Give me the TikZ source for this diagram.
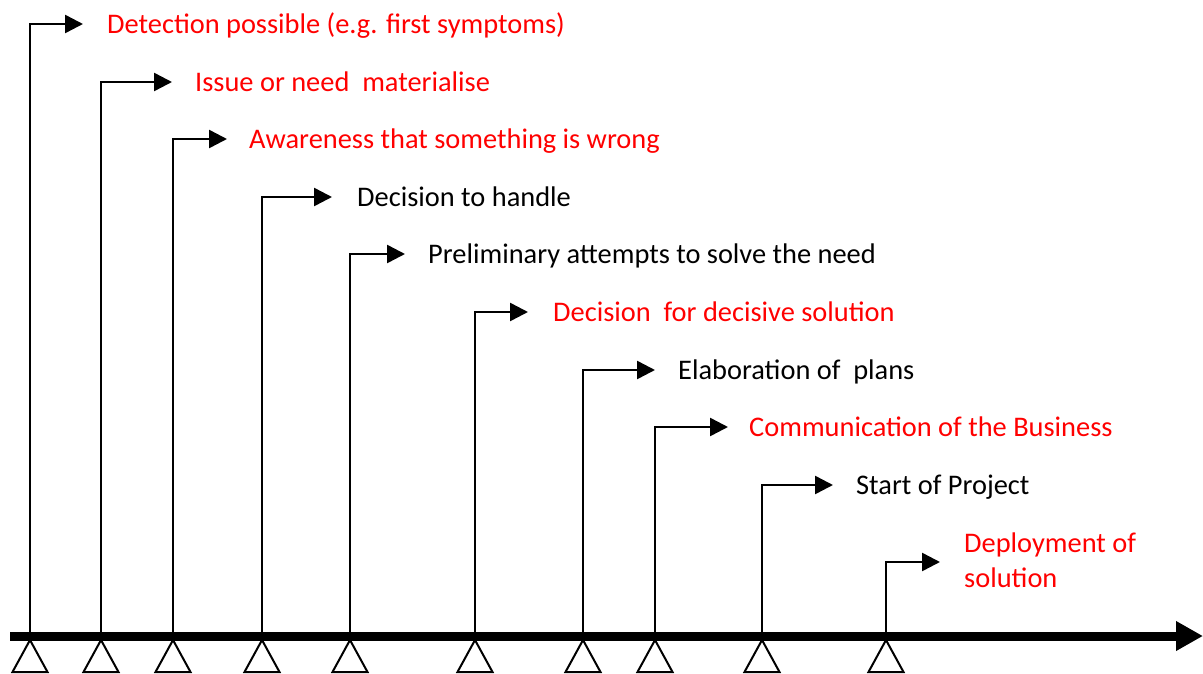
\documentclass[tikz,border=0pt]{standalone}
\usepackage{fontspec}
\setmainfont{Carlito}
\usetikzlibrary{arrows.meta}
\definecolor{hot}{RGB}{255,0,0}
\begin{document}
\begin{tikzpicture}[x=1pt,y=-1pt,
  axisline/.style={line width=9pt,-{Triangle[length=27pt,width=28pt]}},
  stem/.style={line width=2.5pt,-{Triangle[length=18pt,width=18pt]}},
  marker/.style={line width=2pt,line join=miter},
  lbl/.style={anchor=base west,inner sep=0pt,font=\fontsize{28.4}{35}\selectfont,align=left},
  hotlbl/.style={lbl,text=hot}]
\useasboundingbox (0,0) rectangle (1203,673);
% time axis
\coordinate (ts) at (10,636);
\coordinate (te) at (1203,636);
\draw[axisline] (ts) -- (te);
% milestones: foot x on the axis, arrow row y, arrow tip x
\foreach \n/\fx/\ay/\tx in {
  1/30/24/83, 2/101/82/172, 3/173/139/227, 4/262/197/332, 5/350/254/405,
  6/475/312/528, 7/583/370/655, 8/655/427/728, 9/762/485/833, 10/886/562/940} {
  \coordinate (b\n) at (\fx,636);
  \coordinate (a\n) at (\tx,\ay);
  \draw[stem] (b\n) |- (a\n);
  \draw[marker] (\fx,640) -- (\fx-17.5,672) -- (\fx+17.5,672) -- cycle;
}
% milestone labels
\foreach \n/\lx/\ay/\st/\txt in {
  1/107/24/hotlbl/{Detection possible (e.g. first symptoms)},
  2/195/82/hotlbl/{Issue or need \ materialise},
  3/249/139/hotlbl/{Awareness that something is wrong},
  4/357/197/lbl/{Decision to handle},
  5/428/254/lbl/{Preliminary attempts to solve the need},
  6/553/312/hotlbl/{Decision \ for decisive solution},
  7/678/370/lbl/{Elaboration of \ plans},
  8/749/427/hotlbl/{Communication of the Business},
  9/856/485/lbl/{Start of Project}} {
  \node[\st] (l\n) at (\lx,\ay+9) {\txt};
}
\node[hotlbl] (l10) at (964,587) {Deployment of\\solution};
\end{tikzpicture}
\end{document}
